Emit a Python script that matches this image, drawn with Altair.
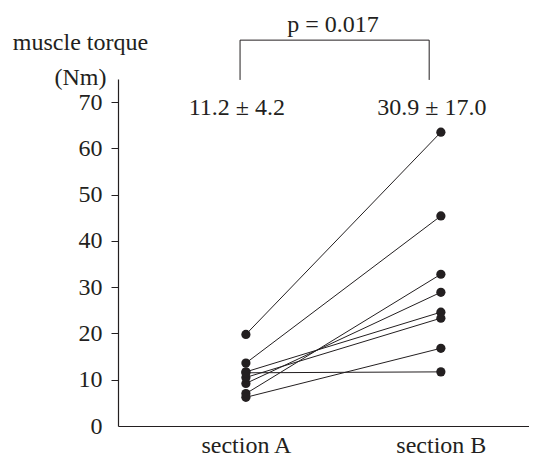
import altair as alt
import pandas as pd

# ---- data ----
sections = ["section A", "section B"]
section_pos = [1, 2]
subjects = [1, 2, 3, 4, 5, 6, 7, 8]
torque_a = [19.8, 13.6, 7.0, 9.2, 11.7, 10.5, 6.2, 11.5]
torque_b = [63.5, 45.4, 32.8, 28.9, 24.6, 23.3, 16.8, 11.7]
mean_labels = ["11.2 \u00b1 4.2", "30.9 \u00b1 17.0"]
p_label = "p = 0.017"
y_ticks = [0, 10, 20, 30, 40, 50, 60, 70]

FONT = "Liberation Serif"
INK = "#231f20"
FS = 24

rows = []
for s, a, b in zip(subjects, torque_a, torque_b):
    rows.append({"subject": s, "pos": section_pos[0], "torque": a})
    rows.append({"subject": s, "pos": section_pos[1], "torque": b})
df = pd.DataFrame(rows)

x_scale = alt.Scale(domain=[0.344, 2.452], nice=False, zero=False)
y_scale = alt.Scale(domain=[0, 75], nice=False)

label_expr = "datum.value == %d ? '%s' : '%s'" % (section_pos[0], sections[0], sections[1])

x_enc = alt.X("pos:Q", scale=x_scale,
              axis=alt.Axis(values=section_pos, labelExpr=label_expr, ticks=False,
                            grid=False, title=None, labelPadding=7,
                            labelFont=FONT, labelFontSize=FS, labelColor=INK,
                            domainColor=INK, labelFlush=False))
y_enc = alt.Y("torque:Q", scale=y_scale,
              axis=alt.Axis(values=y_ticks, grid=False, tickSize=7, labelPadding=9,
                            labelFont=FONT, labelFontSize=FS, labelColor=INK,
                            domainColor=INK, tickColor=INK,
                            tickOpacity={"condition": {"test": "datum.value == 0", "value": 0}, "value": 1},
                            title=["muscle torque", "(Nm)"], titleAngle=0,
                            titleAlign="center", titleBaseline="alphabetic",
                            titleX=-38, titleY=-30, titleLineHeight=35,
                            titleFont=FONT, titleFontSize=FS, titleFontWeight="normal",
                            titleColor=INK))

lines = alt.Chart(df).mark_line(color=INK, strokeWidth=1).encode(
    x=x_enc, y=y_enc, detail="subject:N")
points = alt.Chart(df).mark_circle(color=INK, opacity=1, size=85).encode(
    x="pos:Q", y="torque:Q")

mean_df = pd.DataFrame({"pos": section_pos, "label": mean_labels, "y": [67.3, 67.3]})
means = alt.Chart(mean_df).mark_text(font=FONT, fontSize=FS, color=INK, dx=-9,
                                      baseline="alphabetic", align="center").encode(
    x="pos:Q", y="y:Q", text="label:N")

bracket_h = pd.DataFrame({"x": [0.97], "x2": [1.94], "y": [83.4]})
bracket_v = pd.DataFrame({"x": [0.97, 1.94], "y": [83.4, 83.4], "y2": [74.8, 74.8]})
b_h = alt.Chart(bracket_h).mark_rule(color=INK, strokeWidth=1).encode(
    x="x:Q", x2="x2:Q", y="y:Q")
b_v = alt.Chart(bracket_v).mark_rule(color=INK, strokeWidth=1).encode(
    x="x:Q", y="y:Q", y2="y2:Q")

p_df = pd.DataFrame({"x": [1.447], "y": [85.2], "label": [p_label]})
p_text = alt.Chart(p_df).mark_text(font=FONT, fontSize=FS, color=INK,
                                    baseline="alphabetic", align="center").encode(
    x="x:Q", y="y:Q", text="label:N")

chart = alt.layer(lines, points, means, b_h, b_v, p_text).properties(
    width=411, height=347,
    padding={"left": 110, "top": 71, "right": 0, "bottom": 30},
    autosize=alt.AutoSizeParams(type="none"),
).configure_view(stroke=None).configure_axis(domainWidth=1.2)

chart.save("out.html", embed_options={"renderer": "svg", "actions": False})
